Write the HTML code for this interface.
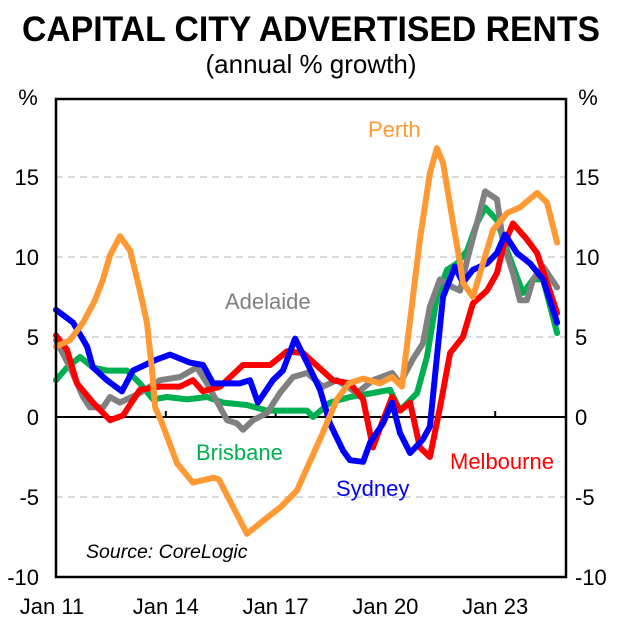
<!DOCTYPE html>
<html><head><meta charset="utf-8"><style>
html,body{margin:0;padding:0;background:#fff;}
svg{display:block;font-family:"Liberation Sans",Arial,sans-serif;}
</style></head><body>
<svg id="chart" width="627" height="624" viewBox="0 0 627 624">
<text x="311" y="41" text-anchor="middle" font-size="35" font-weight="bold" textLength="578" lengthAdjust="spacingAndGlyphs">CAPITAL CITY ADVERTISED RENTS</text>
<text x="311" y="73" text-anchor="middle" font-size="26">(annual % growth)</text>
<text x="28" y="105" text-anchor="middle" font-size="22">%</text>
<text x="588" y="105" text-anchor="middle" font-size="22">%</text>
<g id="grid"></g>
<g id="series"></g>
<rect x="56" y="99" width="510" height="478" fill="none" stroke="#000" stroke-width="2.5"/>
<text x="368" y="137" font-size="22" fill="#FF9933">Perth</text>
<text x="225" y="309" font-size="22" fill="#808080">Adelaide</text>
<text x="196" y="460" font-size="22" fill="#00B050">Brisbane</text>
<text x="336" y="496" font-size="22" fill="#0000FF">Sydney</text>
<text x="450" y="469" font-size="22" fill="#FF0000">Melbourne</text>
<text x="86" y="558" font-size="19.5" font-style="italic">Source: CoreLogic</text>
</svg>
<script>
// months since Jan 2011, annual % growth
const perthMonths=[0,4.6,8.9,12.8,15.4,17.7,21,24.3,27.5,29.8,31.5,32.5,34.4,39.7,44.9,51.5,53.4,58,62.6,68.5,73.8,79,83,86.9,92.1,96,100.7,106.2,110.2,113.4,116,119.3,122.6,124.9,126.9,130.2,132.5,133.4,136.7,140,143.3,147.9,152.1,157.7,161,164.3];
const perthValues=[4.4,4.8,5.9,7.3,8.6,10.1,11.3,10.4,7.9,5.9,2.9,0.6,-0.2,-2.9,-4.1,-3.8,-3.9,-5.6,-7.3,-6.4,-5.6,-4.6,-2.9,-1.25,1.1,2.1,2.4,2.1,2.5,1.9,5.9,11.1,15.25,16.8,15.9,12.1,9.6,8.4,7.5,9.6,11.7,12.75,13.1,14,13.4,10.9];
const sydneyMonths=[0,5.6,10.2,12.1,16.7,21.6,25.2,33.1,37.4,43.9,48.2,51.5,60.3,63.6,66.2,71.1,74.4,78.4,82.3,86.6,89.8,94.1,96.4,100.7,103,107.2,110.2,112.8,116.1,120.3,122.6,124.9,126.9,130.8,133.4,136.7,141.3,144.6,147.2,151.1,155.4,159.7,164.3];
const sydneyValues=[6.7,5.9,4.4,3.1,2.3,1.6,2.9,3.6,3.9,3.4,3.25,2.1,2.1,2.3,0.9,2.3,2.9,4.9,3.4,1.7,-0.4,-2.1,-2.7,-2.8,-1.6,-0.4,0.9,-1,-2.25,-1.4,-0.6,3.75,7.5,9.4,8.4,9.2,9.6,10.25,11.4,10.25,9.6,8.6,5.9];
const melbourneMonths=[0,3.6,6.9,12.1,17.7,22,27.5,34.1,40.7,44.9,48.2,53.8,61.3,70.2,75.7,81,90.8,96.4,100.7,103.9,107.2,110.2,112.8,116.1,119.3,122.6,125.9,129.2,133.4,136.7,141.3,144.6,146.6,149.8,154.4,157.7,161,164.3];
const melbourneValues=[5.1,4.2,2.1,0.9,-0.2,0.1,1.7,1.9,1.9,2.3,1.6,1.9,3.25,3.25,4.1,4,2.3,2.1,1.1,-1.9,-0.2,1.25,0.4,0.9,-1.9,-2.5,0.6,4,5,7.1,7.9,9,10.6,12.1,11.1,10.25,8.4,6.5];
const adelaideMonths=[0,4.6,8.9,11.1,15.4,17.7,21,27.5,34.1,40.7,46.2,49.5,56.1,59.3,61.3,64.6,69.2,73.4,77.7,82.3,87.5,92.1,98.7,103.9,110.2,112.8,117,120.3,122.6,125.9,130.2,132.5,134.8,138,140.7,144.6,146.6,149.8,152.1,154.4,156.4,159.7,164.3];
const adelaideValues=[4.8,3.1,1.25,0.6,0.6,1.25,0.9,1.5,2.3,2.5,3.1,2.1,-0.2,-0.4,-0.8,-0.2,0.25,1.5,2.5,2.75,1.9,2.3,1.5,2.3,2.75,2.1,3.6,4.6,6.9,8.6,8.1,7.9,9.8,12.1,14.1,13.6,10.9,9,7.3,7.3,8.6,9.4,8.1];
const brisbaneMonths=[0,3.6,7.9,12.1,16.7,23.3,27.5,31.8,36.4,43,49.5,54.8,62.6,69.2,75.7,82.3,84.3,89.8,96.4,103.9,109.5,112.8,118.4,121.6,124.9,128.2,131.5,134.8,138,140.7,144.6,147.9,151.1,153.1,156.4,159.7,164.3];
const brisbaneValues=[2.3,3.1,3.75,3.1,2.9,2.9,2.1,1.1,1.25,1.1,1.25,0.9,0.75,0.4,0.4,0.4,0,0.9,1.25,1.5,1.7,0.4,1.5,3.75,7.5,9.2,9.6,10.4,12.1,13.1,12.3,10.4,8.75,7.75,8.6,8.6,5.25];
const yTicks=[15,10,5,0,-5,-10];
const xTickLabels=["Jan 11","Jan 14","Jan 17","Jan 20","Jan 23"];
const xTickMonths=[0,36,72,108,144];

const NS="http://www.w3.org/2000/svg";
const X0=56, PXM=3.05, Y0=417, PXU=16;
function xs(m){return X0+m*PXM;}
function ys(v){return Y0-v*PXU;}
const svg=document.getElementById('chart');
const grid=document.getElementById('grid');
const ser=document.getElementById('series');
function mk(tag,attrs,parent){const e=document.createElementNS(NS,tag);for(const k in attrs)e.setAttribute(k,attrs[k]);parent.appendChild(e);return e;}
yTicks.forEach(v=>{
  if(v!==0&&v!==-10){
    const l=mk('line',{x1:56,x2:566,y1:ys(v),y2:ys(v),stroke:'#d9d9d9','stroke-width':2,'stroke-dasharray':'7,5'},grid);
    
    
  }
  const t1=mk('text',{x:39,y:ys(v)+8,'text-anchor':'end','font-size':22},svg);
  t1.textContent=v;
  
  
  const t2=mk('text',{x:575,y:ys(v)+8,'text-anchor':'start','font-size':22},svg);
  t2.textContent=v;
  
  
});
const zl=mk('line',{x1:56,x2:566,y1:ys(0),y2:ys(0),stroke:'#000','stroke-width':2},grid);


xTickMonths.forEach((m,i)=>{
  if(i>0){
    const tk=mk('line',{x1:xs(m),x2:xs(m),y1:ys(0),y2:ys(0)-6,stroke:'#000','stroke-width':2},grid);
    
    
  }
  const t=mk('text',{x:xs(m)+(i===0?-4:0),y:614,'text-anchor':'middle','font-size':22},svg);
  t.textContent=xTickLabels[i];
  
  
});
function line(ms,vs,color,name){
  const d=ms.map((m,i)=>(i?'L':'M')+xs(m).toFixed(1)+','+ys(vs[i]).toFixed(1)).join(' ');
  const p=mk('path',{d:d,fill:'none',stroke:color,'stroke-width':6,'stroke-linejoin':'round','stroke-linecap':'round'},ser);
  
  
}
line(brisbaneMonths,brisbaneValues,'#00B050','series-brisbane');
line(adelaideMonths,adelaideValues,'#808080','series-adelaide');
line(melbourneMonths,melbourneValues,'#FF0000','series-melbourne');
line(sydneyMonths,sydneyValues,'#0000FF','series-sydney');
line(perthMonths,perthValues,'#FF9933','series-perth');
</script>
</body></html>
